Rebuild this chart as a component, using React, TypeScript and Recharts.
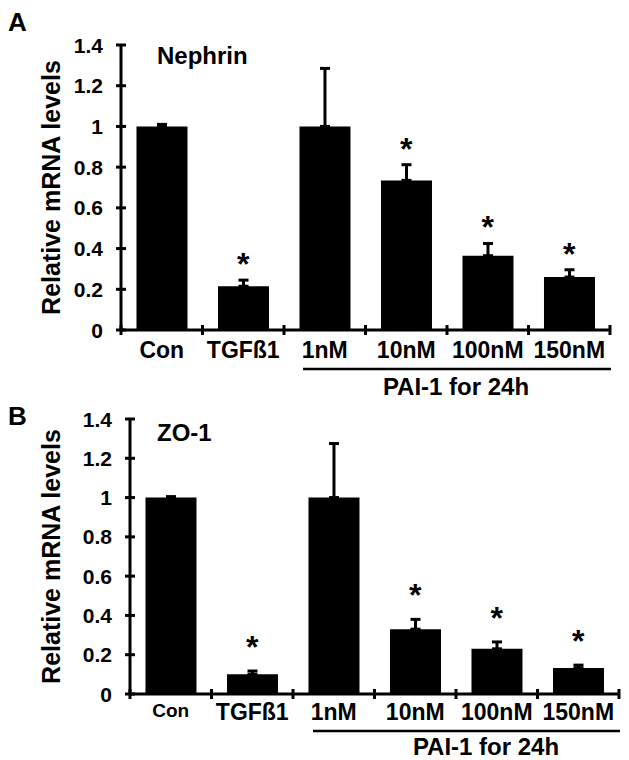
import React from 'react';
import { BarChart, Bar, XAxis, YAxis, ErrorBar, Line } from 'recharts';

const categories = ['Con', 'TGFß1', '1nM', '10nM', '100nM', '150nM'];
const nephrinMean = [1.0, 0.215, 1.0, 0.735, 0.365, 0.26];
const nephrinSd = [0.01, 0.03, 0.285, 0.077, 0.06, 0.036];
const zo1Mean = [1.0, 0.1, 1.0, 0.33, 0.23, 0.133];
const zo1Sd = [0.005, 0.017, 0.275, 0.05, 0.035, 0.014];
const significant = [false, true, false, true, true, true];
const yTicks = [0, 0.2, 0.4, 0.6, 0.8, 1, 1.2, 1.4];
const yTickLabels = ['0', '0.2', '0.4', '0.6', '0.8', '1', '1.2', '1.4'];

const FONT = '"Liberation Sans", Arial, sans-serif';
const W = 629;
const Y_MARGIN = 18;
const X_AXIS_H = 30;

const buildRows = (mean: number[], sd: number[]) =>
  categories.map((name, i) => ({
    name,
    mean: mean[i],
    err: [0, sd[i]],
    top: mean[i] + sd[i],
    sig: significant[i],
  }));

const YTick = (props: any) => {
  const { x, y, payload } = props;
  const ax = x + Y_MARGIN;
  const label = yTickLabels[yTicks.indexOf(payload.value)];
  return (
    <g>
      <line x1={ax - 5} x2={ax + 5} y1={y} y2={y} stroke="#000" strokeWidth={3} />
      <text x={x} y={y} dy="0.36em" textAnchor="end" fontFamily={FONT} fontWeight="bold" fontSize={21} fill="#000">
        {label}
      </text>
    </g>
  );
};

// labels at band centres, tick marks on the band edges (Excel style)
const makeCatTick = (conSize: number, margin: number, half: number) => (props: any) => {
  const { x, y, payload, index } = props;
  const ay = y - margin;
  const size = payload.value === 'Con' ? conSize : 23;
  return (
    <g>
      {index === 0 && <line x1={x - half} x2={x - half} y1={ay - 5} y2={ay + 5} stroke="#000" strokeWidth={3} />}
      <line x1={x + half} x2={x + half} y1={ay - 5} y2={ay + 5} stroke="#000" strokeWidth={3} />
      <text x={x} y={y} dy="0.71em" textAnchor="middle" fontFamily={FONT} fontWeight="bold" fontSize={size} fill="#000">
        {payload.value}
      </text>
    </g>
  );
};

const makeStar = (gap: number) => (props: any) => {
  const { cx, cy, payload, index } = props;
  if (!payload.sig) return <g key={`s${index}`} />;
  return (
    <text key={`s${index}`} x={cx} y={cy - gap + 17} textAnchor="middle" fontFamily={FONT} fontWeight="bold" fontSize={32} fill="#000">
      *
    </text>
  );
};

type PanelProps = {
  mean: number[];
  sd: number[];
  top: number;
  height: number;
  margin: { top: number; right: number; left: number; bottom: number };
  yWidth: number;
  labelMargin: number;
  conSize: number;
  starGap: number;
};

function Panel(p: PanelProps) {
  const rows = buildRows(p.mean, p.sd);
  const plotW = W - p.margin.left - p.margin.right - p.yWidth;
  const half = plotW / categories.length / 2;
  return (
    <div style={{ position: 'absolute', left: 0, top: p.top }}>
      <BarChart width={W} height={p.height} data={rows} margin={p.margin} barCategoryGap="19%">
        <XAxis
          dataKey="name"
          height={X_AXIS_H}
          axisLine={{ stroke: '#000', strokeWidth: 3 }}
          tickLine={false}
          tickSize={0}
          tickMargin={p.labelMargin}
          interval={0}
          tick={makeCatTick(p.conSize, p.labelMargin, half)}
        />
        <YAxis
          domain={[0, 1.4]}
          ticks={yTicks}
          width={p.yWidth}
          axisLine={{ stroke: '#000', strokeWidth: 3 }}
          tickLine={false}
          tickSize={0}
          tickMargin={Y_MARGIN}
          tick={<YTick />}
          label={{
            value: 'Relative mRNA levels',
            angle: -90,
            position: 'insideLeft',
            offset: 51,
            style: { textAnchor: 'middle', fontFamily: FONT, fontWeight: 'bold', fontSize: 25, fill: '#000' },
          }}
        />
        <Bar dataKey="mean" fill="#000" isAnimationActive={false}>
          <ErrorBar dataKey="err" direction="y" width={5} stroke="#000" strokeWidth={3} />
        </Bar>
        <Line
          dataKey="top"
          stroke="none"
          dot={makeStar(p.starGap)}
          activeDot={false}
          legendType="none"
          isAnimationActive={false}
        />
      </BarChart>
    </div>
  );
}

export default function App() {
  const txt = { fontFamily: FONT, fontWeight: 'bold' as const, fill: '#000' };
  return (
    <div style={{ position: 'absolute', left: 0, top: 0, width: W, height: 760, background: '#fff' }}>
      <Panel
        mean={nephrinMean}
        sd={nephrinSd}
        top={0}
        height={400}
        margin={{ top: 45, right: 19, left: 0, bottom: 70 - X_AXIS_H }}
        yWidth={121}
        labelMargin={12}
        conSize={23}
        starGap={22}
      />
      <Panel
        mean={zo1Mean}
        sd={zo1Sd}
        top={380}
        height={380}
        margin={{ top: 39, right: 10, left: 0, bottom: 66 - X_AXIS_H }}
        yWidth={130}
        labelMargin={10}
        conSize={19}
        starGap={30}
      />
      <svg width={W} height={760} style={{ position: 'absolute', left: 0, top: 0, pointerEvents: 'none' }}>
        <text x={8} y={31} fontSize={26} {...txt}>A</text>
        <text x={157} y={64} fontSize={24} {...txt}>Nephrin</text>
        <line x1={303} x2={611} y1={369} y2={369} stroke="#000" strokeWidth={2.5} />
        <text x={456} y={395} fontSize={24} textAnchor="middle" {...txt}>PAI-1 for 24h</text>
        <text x={8} y={425} fontSize={26} {...txt}>B</text>
        <text x={157} y={441} fontSize={24} {...txt}>ZO-1</text>
        <line x1={313} x2={620} y1={731} y2={731} stroke="#000" strokeWidth={2.5} />
        <text x={486} y={755} fontSize={24} textAnchor="middle" {...txt}>PAI-1 for 24h</text>
      </svg>
    </div>
  );
}
